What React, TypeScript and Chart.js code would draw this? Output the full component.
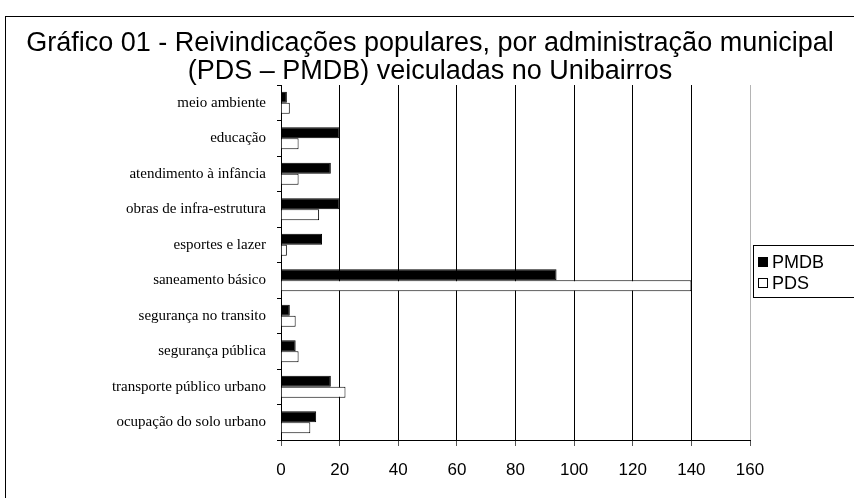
import React, { useEffect, useRef } from "react";
import { Chart, registerables } from "chart.js";

Chart.register(...registerables);

const categories = [
  "meio ambiente",
  "educação",
  "atendimento à infância",
  "obras de infra-estrutura",
  "esportes e lazer",
  "saneamento básico",
  "segurança no transito",
  "segurança pública",
  "transporte público urbano",
  "ocupação do solo urbano",
];
const pmdbValues = [2, 20, 17, 20, 14, 94, 3, 5, 17, 12];
const pdsValues = [3, 6, 6, 13, 2, 140, 5, 6, 22, 10];
const seriesNames = ["PMDB", "PDS"];
const xMin = 0;
const xMax = 160;
const xStep = 20;
const titleLines = [
  "Gráfico 01 - Reivindicações populares, por administração municipal",
  "(PDS – PMDB) veiculadas no Unibairros",
];

const SANS = '"Liberation Sans", Arial, sans-serif';
const SERIF = '"Liberation Serif", "Times New Roman", serif';

const decorPlugin = {
  id: "decor",
  beforeDraw(chart: any) {
    const ctx = chart.ctx;
    ctx.save();
    ctx.fillStyle = "#ffffff";
    ctx.fillRect(0, 0, chart.width, chart.height);
    ctx.strokeStyle = "#000000";
    ctx.lineWidth = 1;
    ctx.strokeRect(5.5, 16.5, 1000, 1000);
    ctx.restore();
  },
  afterDraw(chart: any) {
    const ctx = chart.ctx;
    ctx.save();
    // title
    ctx.fillStyle = "#000000";
    ctx.font = `27px ${SANS}`;
    ctx.textAlign = "center";
    ctx.textBaseline = "alphabetic";
    ctx.fillText(titleLines[0], 430, 51);
    ctx.fillText(titleLines[1], 430, 79);
    // legend
    ctx.strokeStyle = "#000000";
    ctx.lineWidth = 1;
    ctx.strokeRect(753.5, 245.5, 120, 52);
    const ys = [262, 283];
    const fills = ["#000000", "#ffffff"];
    ctx.font = `18px ${SANS}`;
    ctx.textAlign = "left";
    ctx.textBaseline = "middle";
    seriesNames.forEach((name, i) => {
      ctx.fillStyle = fills[i];
      ctx.fillRect(758, ys[i] - 5, 10, 10);
      ctx.strokeRect(758.5, ys[i] - 4.5, 9, 9);
      ctx.fillStyle = "#000000";
      ctx.fillText(name, 772, ys[i] + 1);
    });
    ctx.restore();
  },
};

export default function App() {
  const ref = useRef<HTMLCanvasElement | null>(null);
  useEffect(() => {
    if (!ref.current) return;
    const chart = new Chart(ref.current, {
      type: "bar",
      data: {
        labels: categories,
        datasets: [
          {
            label: seriesNames[0],
            data: pmdbValues,
            backgroundColor: "#000000",
            borderColor: "#000000",
            borderWidth: 1,
            categoryPercentage: 0.62,
            barPercentage: 1,
          },
          {
            label: seriesNames[1],
            data: pdsValues,
            backgroundColor: "#ffffff",
            borderColor: "#000000",
            borderWidth: 1,
            categoryPercentage: 0.62,
            barPercentage: 1,
          },
        ],
      },
      options: {
        indexAxis: "y",
        animation: false,
        responsive: false,
        devicePixelRatio: 1,
        layout: { padding: { top: 85, right: 104, bottom: 0, left: 0 } },
        plugins: {
          legend: { display: false },
          title: { display: false },
          tooltip: { enabled: false },
        },
        scales: {
          x: {
            type: "linear",
            min: xMin,
            max: xMax,
            ticks: {
              stepSize: xStep,
              color: "#000000",
              font: { family: SANS, size: 17 },
              padding: 14,
            },
            grid: {
              color: (c: any) =>
                c.tick && c.tick.value === xMax ? "#b4b4b4" : "#000000",
              tickColor: "#555555",
              tickLength: 6,
              lineWidth: 1,
            },
            border: { color: "#000000", width: 1 },
            afterFit: (s: any) => {
              s.height = 58;
            },
          },
          y: {
            ticks: {
              color: "#000000",
              font: { family: SERIF, size: 15 },
              padding: 11,
            },
            grid: {
              drawOnChartArea: false,
              offset: true,
              color: "#000000",
              tickLength: 4,
            },
            border: { color: "#000000", width: 1 },
            afterFit: (s: any) => {
              s.width = 281;
            },
          },
        },
      },
      plugins: [decorPlugin],
    } as any);
    return () => chart.destroy();
  }, []);
  return (
    <div style={{ position: "fixed", left: 0, top: 0, width: 854, height: 498 }}>
      <canvas ref={ref} width={854} height={498} style={{ display: "block" }} />
    </div>
  );
}
